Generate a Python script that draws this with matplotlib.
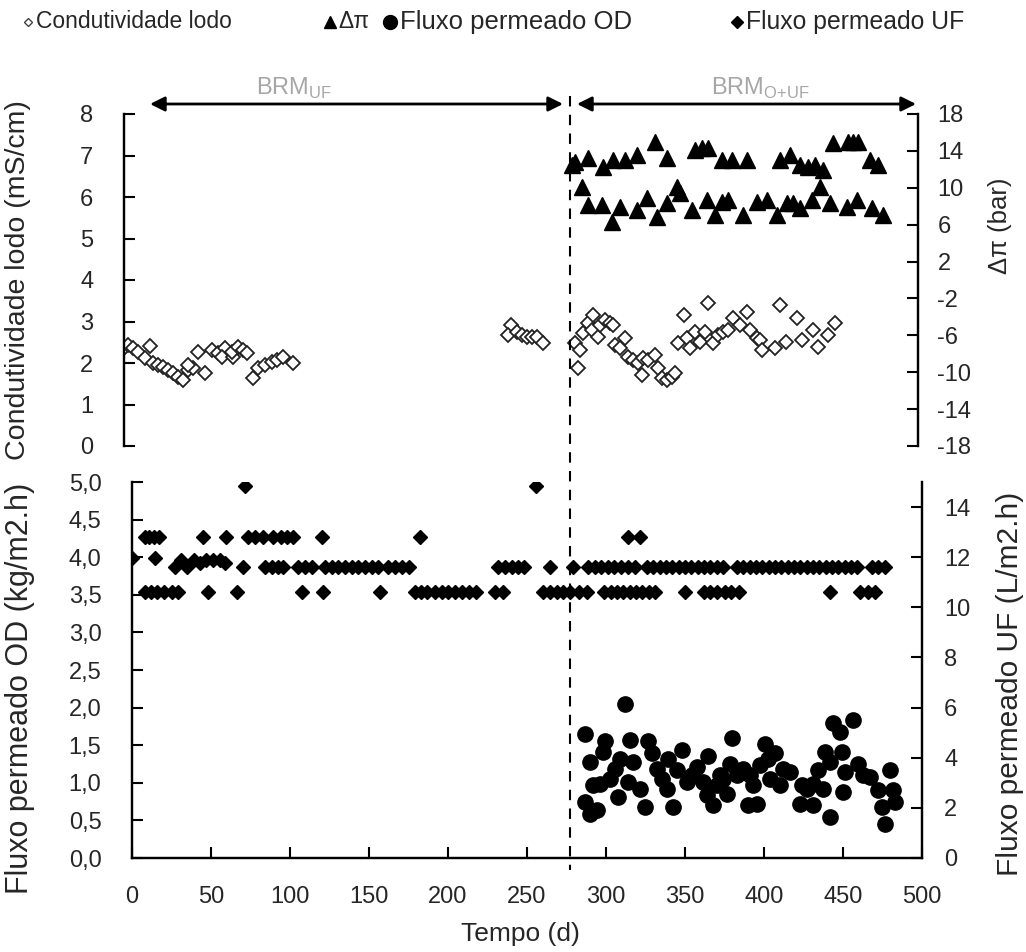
import numpy as np
import matplotlib
matplotlib.use('Agg')
import matplotlib.pyplot as plt
from matplotlib.lines import Line2D

plt.rcParams['font.family'] = ['Liberation Sans', 'DejaVu Sans']
plt.rcParams['axes.unicode_minus'] = False

# --- data ---
# sludge conductivity (mS/cm)
cond_days = [0, 2.5, 5.7, 8.8, 16.4, 13.2, 18.3, 21.4, 24.6, 27.7, 30.9, 34, 37.2, 40.3,
             43.5, 40, 51, 46.6, 55.4, 59.2, 63.6, 61.7, 68.6, 68, 71.8, 75, 77.5, 81.2,
             84.4, 88.8, 93.2, 96.3, 100, 106.4,
             244, 241.6, 247.5, 250.6, 253.8, 256.9, 260, 264,
             284, 285.9, 287.2, 289, 292.2, 295.3, 294.7, 298.5, 299.7, 302.9, 306, 308,
             309.2, 312.3, 315.5, 317.4, 320.5, 323.7, 326.8, 326.2, 330, 334.4, 336.3,
             338.8, 341.9, 345, 347,
             348.9, 352.6, 354.5, 356.4, 359.6, 362.7, 365.9, 367.8, 370.9, 374, 377.2,
             380.4, 383.5, 388, 392.3, 394.2, 398.6, 400.5, 401.8, 410, 413, 416.6, 424,
             427, 433.9, 437, 443.3, 447.7]
cond_vals = [2.36, 2.43, 2.36, 2.27, 2.41, 2.12, 2.0, 1.95, 1.9, 1.83, 1.76, 1.66, 1.59, 1.83,
             1.88, 1.95, 1.76, 2.27, 2.31, 2.24, 2.36, 2.14, 2.14, 2.27, 2.39, 2.31, 2.24, 1.64,
             1.88, 1.95, 2.02, 2.07, 2.14, 2.0,
             2.92, 2.67, 2.75, 2.67, 2.63, 2.63, 2.63, 2.48,
             2.48, 1.88, 2.31, 2.72, 2.96, 3.16, 2.8, 2.63, 2.92, 3.04, 2.96, 2.92,
             2.43, 2.36, 2.6, 2.14, 2.07, 2.0, 2.12, 1.71, 2.07, 2.19, 1.88,
             1.64, 1.59, 1.66, 1.76,
             2.48, 3.16, 2.6, 2.36, 2.75, 2.51, 2.75, 3.45, 2.48, 2.67, 2.75,
             2.8, 3.08, 2.92, 3.23, 2.8, 2.6, 2.55, 2.31, 2.36, 3.4, 2.51, 3.08,
             2.55, 2.8, 2.39, 2.67, 2.96]

# osmotic pressure difference (bar)
dpi_days = [282.1, 284, 288.4, 292.2, 292.2, 301, 301.6, 308, 307.3, 312.3, 315.5, 323, 323,
            329.3, 334.4, 335.6, 342, 342, 348.2, 350.1, 357.7, 359.6, 364, 367.8, 367.1,
            372.2, 376.6, 376.6, 380.4, 382.9, 389.8, 392.3, 398.6, 404.9, 411.2, 413,
            419.4, 417.5, 421.3, 425.7, 425.7, 430.7, 433.2, 435.1, 438.3, 440.2, 444.6,
            446.5, 455.3, 455.9, 459, 462.2, 461.6, 469.8, 471, 474.8, 478]
dpi_vals = [12.5, 12.8, 10.1, 13.2, 8.1, 8.1, 12.3, 13.0, 6.3, 7.9, 13.0, 13.6, 7.6,
            8.9, 15.0, 6.8, 13.2, 8.3, 10.1, 9.4, 7.6, 14.1, 14.3, 14.3, 8.7,
            7.0, 13.0, 8.5, 8.7, 13.0, 7.0, 13.0, 8.5, 8.7, 7.0, 13.0,
            13.6, 8.3, 8.3, 12.5, 7.8, 12.3, 8.7, 12.5, 10.1, 11.9, 8.3,
            14.9, 7.9, 15.0, 15.0, 15.0, 8.7, 13.0, 7.8, 12.5, 7.0]

# UF permeate flux (L/m2.h), the readings fall on a few discrete levels
uf_days_a = [71.5, 256]                      # 14.85
uf_days_b = [8, 11, 14, 17, 45, 59.5, 73.4, 78, 83, 89, 94, 98, 102, 120, 182,
             314, 321.5]                     # 12.8
uf_days_c = [0, 14.6]                        # 11.95
uf_days_d = [27, 31, 35, 39, 43, 47, 51, 56, 59]
uf_vals_d = [11.6, 11.9, 11.6, 11.9, 11.75, 11.9, 11.9, 11.9, 11.75]
uf_days_e = [70, 84, 88.6, 92.4, 95.6, 105, 109.5, 114, 122, 126.6, 130.4, 134.8, 139, 143,
             147.5, 152, 155.7, 162, 166.5, 171, 175, 231.6, 236, 240.5, 244, 248, 264.5, 279,
             288.6, 293, 297, 301, 305, 309.5, 314, 318.4, 326, 330, 334, 338, 342, 346, 350,
             354, 358, 362, 366, 370, 374, 383, 387, 391, 395, 399, 403, 407, 411, 415, 419,
             423, 427, 431, 435, 439, 443, 447, 451, 455, 459, 468.4, 472, 476.6]   # 11.6
uf_days_f = [8, 12, 16, 20, 25, 29, 48, 66.7, 107.6, 121, 157, 179, 183, 187, 192, 196, 200,
             204.4, 209, 213, 218, 230, 235, 260, 264.5, 269, 273, 277, 283, 288, 299, 303,
             307, 311, 315, 319, 323, 327, 331, 350, 362, 366, 370, 375, 379, 384, 442, 461,
             465.6, 470]                     # 10.6
uf_levels = [14.85, 12.8, 11.95, 11.6, 10.6]

# FO permeate flux (kg/m2.h)
od_days = [286.7, 289.9, 286.7, 289.9, 294.3, 291.8, 296.2, 299.4, 298.1, 302.5, 305.7,
           308.9, 307.6, 312, 315.2, 313.9, 317.1, 321.5, 324.7, 326.6, 329.1, 332.3,
           335.4, 338.6, 339.2, 342.4, 344.9, 348.1, 351.3, 354.4, 357.6, 361.4, 364.6,
           363.9, 367.7, 370.3, 374.1, 376.6, 379.7, 378.5, 382.9, 386.7, 389.9, 395.6,
           393, 397.5, 400.6, 402.5, 407, 410.1, 412, 416.5, 422.8, 424, 427.2, 431,
           434.2, 437.3, 438.6, 441.8, 443.7, 448.1, 449.4, 450, 451.3, 456.3, 459.5,
           462.7, 467.1, 472.2, 474.7, 476.6, 479.7, 481.6, 482.9, 441.8, 431, 391.1,
           372.2, 403.8]
od_vals = [1.65, 1.28, 0.75, 0.59, 0.64, 0.97, 0.99, 1.55, 1.41, 1.05, 1.19,
           1.32, 0.81, 2.05, 1.57, 1.01, 1.28, 0.92, 0.68, 1.55, 1.39, 1.19,
           1.05, 0.92, 1.31, 0.68, 1.17, 1.44, 1.01, 1.11, 1.21, 1.01, 1.35,
           0.84, 0.71, 0.97, 1.05, 0.85, 1.59, 1.25, 1.11, 1.19, 0.71, 0.72,
           0.97, 1.24, 1.51, 1.32, 1.39, 0.97, 1.19, 1.15, 0.72, 0.97, 0.92, 0.71,
           1.17, 0.92, 1.41, 0.55, 1.79, 1.68, 1.41, 0.88, 1.15, 1.84, 1.25,
           1.11, 1.08, 0.91, 0.68, 0.45, 1.17, 0.91, 0.75, 1.28, 0.99, 1.11,
           1.11, 1.05]

cond_ticks = [0, 1, 2, 3, 4, 5, 6, 7, 8]
dpi_ticks = [-18, -14, -10, -6, -2, 2, 6, 10, 14, 18]
od_ticks = [0, 0.5, 1.0, 1.5, 2.0, 2.5, 3.0, 3.5, 4.0, 4.5, 5.0]
od_tick_labels = ['0,0', '0,5', '1,0', '1,5', '2,0', '2,5', '3,0', '3,5', '4,0', '4,5', '5,0']
uf_ticks = [0, 2, 4, 6, 8, 10, 12, 14]
day_ticks = [0, 50, 100, 150, 200, 250, 300, 350, 400, 450, 500]

uf_days = []
uf_vals = []
for d, lvl in zip([uf_days_a, uf_days_b, uf_days_c, uf_days_e, uf_days_f], uf_levels):
    uf_days += d
    uf_vals += [lvl] * len(d)
uf_days += uf_days_d
uf_vals += uf_vals_d

txt = '#262626'
W, H = 1026, 952
fig = plt.figure(figsize=(W / 100, H / 100), dpi=100)

def fx(px):
    return px / W

def fy(py):
    return 1 - py / H

# top panel
ax1 = fig.add_axes([fx(124), fy(446), fx(918 - 124), (446 - 114) / H])
ax1r = ax1.twinx()
ax1.plot(cond_days, cond_vals, ls='none', marker='D', ms=6.8, mfc='white', mec='#222222', mew=1.3)
ax1r.plot(dpi_days, dpi_vals, ls='none', marker='^', ms=11.5, color='black')
ax1.set_xlim(0, 500)
ax1.set_ylim(0, 8)
ax1r.set_ylim(-18, 18)
ax1.set_yticks(cond_ticks)
ax1r.set_yticks(dpi_ticks)
ax1.set_xticks([])
for a in (ax1, ax1r):
    for s in ('top', 'bottom'):
        a.spines[s].set_visible(False)
    for s in ('left', 'right'):
        a.spines[s].set_linewidth(1.6)
ax1.tick_params(axis='y', direction='in', length=8, width=1.5, labelsize=17, pad=22, labelcolor=txt)
ax1r.tick_params(axis='y', direction='in', length=8, width=1.5, labelsize=17, pad=14, labelcolor=txt)

# bottom panel
ax2 = fig.add_axes([fx(132), fy(858), fx(922 - 132), (858 - 482) / H])
ax2r = ax2.twinx()
ax2r.plot(uf_days, uf_vals, ls='none', marker='D', ms=7.5, color='black')
ax2.plot(od_days, od_vals, ls='none', marker='o', ms=11, color='black')
ax2.set_zorder(ax2r.get_zorder() + 1)
ax2.patch.set_visible(False)
ax2.set_xlim(0, 500)
ax2.set_ylim(0, 5)
ax2r.set_ylim(0, 15)
ax2.set_xticks(day_ticks)
ax2.set_yticks(od_ticks)
ax2.set_yticklabels(od_tick_labels)
ax2r.set_yticks(uf_ticks)
for a in (ax2, ax2r):
    a.spines['top'].set_visible(False)
    for s in ('left', 'right', 'bottom'):
        a.spines[s].set_linewidth(1.6)
ax2.tick_params(axis='both', direction='in', length=8, width=1.5, labelsize=17, labelcolor=txt)
ax2.tick_params(axis='y', pad=22)
ax2.tick_params(axis='x', pad=20)
ax2r.tick_params(axis='y', direction='in', length=8, width=1.5, labelsize=17, pad=16, labelcolor=txt)

# axis titles
fig.text(fx(18), fy(280), 'Condutividade lodo (mS/cm)', rotation=90, ha='center', va='center', fontsize=20.5, color=txt)
fig.text(fx(1000), fy(226), 'Δπ (bar)', rotation=90, ha='center', va='center', fontsize=18.5, color=txt)
fig.text(fx(20), fy(688), 'Fluxo permeado OD (kg/m2.h)', rotation=90, ha='center', va='center', fontsize=22, color=txt)
fig.text(fx(1010), fy(684), 'Fluxo permeado UF (L/m2.h)', rotation=90, ha='center', va='center', fontsize=21.5, color=txt)
fig.text(fx(520), fy(934), 'Tempo (d)', ha='center', va='center', fontsize=19, color=txt)

# phase separation line and period arrows
fig.add_artist(Line2D([fx(570), fx(570)], [fy(96), fy(870)], transform=fig.transFigure,
                      color='black', lw=1.5, ls=(0, (5, 4))))
ax1.annotate('', xy=(fx(150), fy(104)), xytext=(fx(563), fy(104)), xycoords='figure fraction',
             arrowprops=dict(arrowstyle='<|-|>', color='black', lw=2, mutation_scale=22, shrinkA=0, shrinkB=0))
ax1.annotate('', xy=(fx(577), fy(104)), xytext=(fx(916), fy(104)), xycoords='figure fraction',
             arrowprops=dict(arrowstyle='<|-|>', color='black', lw=2, mutation_scale=22, shrinkA=0, shrinkB=0))
fig.text(fx(294), fy(88), r'BRM$_{\mathregular{UF}}$', ha='center', va='center', fontsize=17, color='#a6a6a6')
fig.text(fx(760), fy(88), r'BRM$_{\mathregular{O{+}UF}}$', ha='center', va='center', fontsize=17, color='#a6a6a6')

# legend across the top
fig.add_artist(Line2D([fx(28)], [fy(22)], transform=fig.transFigure, ls='none', marker='D',
                      ms=4.5, mfc='white', mec='#444444', mew=1))
fig.text(fx(36), fy(22), 'Condutividade lodo', ha='left', va='center', fontsize=16.5, color=txt)
fig.add_artist(Line2D([fx(330)], [fy(22)], transform=fig.transFigure, ls='none', marker='^',
                      ms=8, color='black'))
fig.text(fx(338), fy(22), 'Δπ', ha='left', va='center', fontsize=16.5, color=txt)
fig.add_artist(Line2D([fx(390)], [fy(22)], transform=fig.transFigure, ls='none', marker='o',
                      ms=10, color='black'))
fig.text(fx(400), fy(22), 'Fluxo permeado OD', ha='left', va='center', fontsize=18.5, color=txt)
fig.add_artist(Line2D([fx(737)], [fy(22)], transform=fig.transFigure, ls='none', marker='D',
                      ms=6, color='black'))
fig.text(fx(746), fy(22), 'Fluxo permeado UF', ha='left', va='center', fontsize=17.8, color=txt)

fig.savefig('out.png', dpi=100)
